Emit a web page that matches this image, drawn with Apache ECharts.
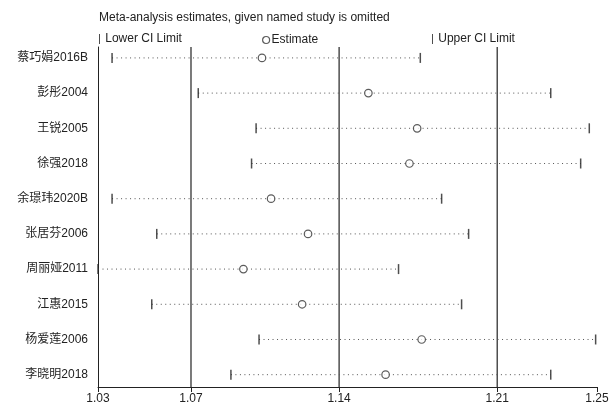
<!DOCTYPE html>
<html><head><meta charset="utf-8">
<script src="https://cdn.jsdelivr.net/npm/echarts@6/dist/echarts.min.js"></script>
<style>html,body{margin:0;padding:0;background:#fff}#c{width:611px;height:410px}</style>
</head><body><div id="c"></div>
<script>
const studies = ['蔡巧娟2016B','彭彤2004','王锐2005','徐强2018','余璟玮2020B','张居芬2006','周丽娅2011','江惠2015','杨爱莲2006','李晓明2018'];
const lowerCI  = [1.0362,1.0742,1.0997,1.0977,1.0362,1.0559,1.0300,1.0537,1.1010,1.0886];
const estimate = [1.1023,1.1492,1.1707,1.1673,1.1063,1.1226,1.0941,1.1200,1.1727,1.1568];
const upperCI  = [1.1721,1.2296,1.2466,1.2428,1.1815,1.1934,1.1625,1.1903,1.2494,1.2296];
const overall = [1.0710, 1.1363, 1.2060]; // pooled lower CI, estimate, upper CI
const tickValues = [1.03, 1.0710, 1.1363, 1.2060, 1.25];
const tickLabels = ['1.03','1.07','1.14','1.21','1.25'];
const rows = studies.map((_, i) => i + 1);

const FONT = '"Liberation Sans", Arial, "Noto Sans CJK SC", sans-serif';
const INK = '#222';
const barIcon = 'path://M0,0L1,0L1,10L0,10Z';

const chart = echarts.init(document.getElementById('c'));
chart.setOption({
  animation: false,
  backgroundColor: '#fff',
  title: {
    text: 'Meta-analysis estimates, given named study is omitted',
    left: 99, top: 12, padding: 0,
    textStyle: {fontFamily: FONT, fontSize: 12, fontWeight: 'normal', color: INK}
  },
  legend: [
    {data: [{name: 'Lower CI Limit', icon: barIcon}], left: 99, top: 33, padding: 0,
     itemWidth: 1.5, itemHeight: 10, selectedMode: false,
     textStyle: {fontFamily: FONT, fontSize: 12, color: INK}},
    {data: [{name: 'Estimate', icon: 'circle'}], left: 262, top: 34, padding: 0,
     itemWidth: 7, itemHeight: 7, selectedMode: false,
     itemStyle: {color: '#fff', borderColor: '#333', borderWidth: 1.2},
     textStyle: {fontFamily: FONT, fontSize: 12, color: INK, padding: [0,0,0,-3]}},
    {data: [{name: 'Upper CI Limit', icon: barIcon}], left: 432, top: 33, padding: 0,
     itemWidth: 1.5, itemHeight: 10, selectedMode: false,
     textStyle: {fontFamily: FONT, fontSize: 12, color: INK}}
  ],
  grid: {left: 98, right: 14, top: 47, bottom: 23, containLabel: false, outerBoundsMode: 'none'},
  xAxis: {
    type: 'value', min: 1.03, max: 1.25,
    axisLine: {show: true, onZero: false, lineStyle: {color: INK, width: 1}},
    axisTick: {show: true, customValues: tickValues, length: 5, lineStyle: {color: INK}},
    axisLabel: {
      show: true, customValues: tickValues, margin: 6,
      fontFamily: FONT, fontSize: 12, color: INK,
      formatter: v => {
        let best = 0;
        tickValues.forEach((t, i) => { if (Math.abs(t - v) < Math.abs(tickValues[best] - v)) best = i; });
        return tickLabels[best];
      }
    },
    splitLine: {show: false}
  },
  yAxis: {
    type: 'value', min: 0.69, max: 10.35, inverse: true,
    axisLine: {show: true, onZero: false, lineStyle: {color: INK, width: 1}},
    axisTick: {show: false},
    axisLabel: {
      show: true, customValues: rows, margin: 10,
      fontFamily: FONT, fontSize: 12, color: INK,
      formatter: v => studies[Math.round(v) - 1]
    },
    splitLine: {show: false}
  },
  series: [
    {
      type: 'custom', name: 'pooled', silent: true, z: 1,
      data: overall.map(v => [v, 1]),
      renderItem: (params, api) => {
        const x = api.coord([api.value(0), 1])[0];
        const cs = params.coordSys;
        return {type: 'line', shape: {x1: x, y1: cs.y, x2: x, y2: cs.y + cs.height},
                style: {stroke: INK, lineWidth: 1.2}};
      }
    },
    {
      type: 'custom', name: 'ci', silent: true, z: 1,
      data: rows.map((r, i) => [lowerCI[i], upperCI[i], r]),
      encode: {x: [0, 1], y: 2},
      renderItem: (params, api) => {
        const y = api.value(2);
        const p1 = api.coord([api.value(0), y]);
        const p2 = api.coord([api.value(1), y]);
        return {type: 'line', shape: {x1: p1[0], y1: p1[1], x2: p2[0], y2: p2[1]},
                style: {stroke: '#555', lineWidth: 1, lineDash: [1, 3.5]}};
      }
    },
    {
      type: 'scatter', name: 'Lower CI Limit', z: 3,
      symbol: 'rect', symbolSize: [1.5, 10],
      itemStyle: {color: INK},
      data: rows.map((r, i) => [lowerCI[i], r])
    },
    {
      type: 'scatter', name: 'Upper CI Limit', z: 3,
      symbol: 'rect', symbolSize: [1.5, 10],
      itemStyle: {color: INK},
      data: rows.map((r, i) => [upperCI[i], r])
    },
    {
      type: 'scatter', name: 'Estimate', z: 4,
      symbol: 'circle', symbolSize: 7.5,
      itemStyle: {color: '#fff', borderColor: '#333', borderWidth: 1.2},
      data: rows.map((r, i) => [estimate[i], r])
    }
  ]
});
</script>
</body></html>
